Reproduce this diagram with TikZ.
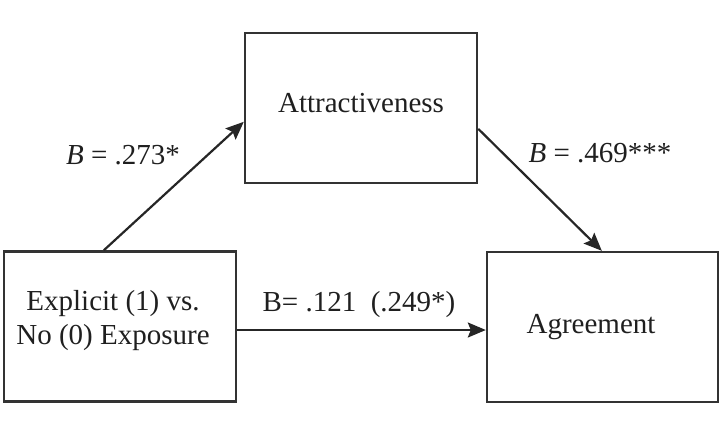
\documentclass[tikz,border=0pt]{standalone}
\usepackage{fontspec}
\setmainfont{Liberation Serif}
\usetikzlibrary{arrows.meta}
\begin{document}
\begin{tikzpicture}[x=1pt,y=-1pt,
  box/.style={draw=black!80, line width=2.4pt, rectangle, inner sep=0pt},
  txt/.style={font=\fontsize{29}{34}\selectfont, text=black!88, inner sep=0pt, align=center},
  arr/.style={draw=black!85, line width=2.2pt, -{Stealth[length=18pt,width=15pt,inset=3pt]}}]
\useasboundingbox (0,0) rectangle (727,432);
\node[box, minimum width=232pt, minimum height=150pt] (L) at (120,326.5) {};
\node[box, minimum width=232pt, minimum height=150pt] (A) at (361,108) {};
\node[box, minimum width=231pt, minimum height=150pt] (G) at (602.5,327) {};
\node[txt] (Lt) at (113,320.5) {Explicit (1) vs.\\No (0) Exposure};
\node[txt] (At) at (361,103) {Attractiveness};
\node[txt] (Gt) at (591,327) {Agreement};
\coordinate (h) at ([yshift=-3.5pt]L.east);
\draw[arr] ([xshift=101pt]L.north west) -- ([yshift=-90pt]A.north west);
\draw[arr] ([yshift=-97pt]A.north east) -- ([xshift=116pt]G.north west);
\draw[arr] (h) -- (h -| G.west);
\node[txt] (l1) at (123,155) {\textit{B} = .273*};
\node[txt] (l2) at (600,153) {\textit{B} = .469***};
\node[txt] (l3) at (359,305) {B= .121~~(.249*)};
\end{tikzpicture}
\end{document}
